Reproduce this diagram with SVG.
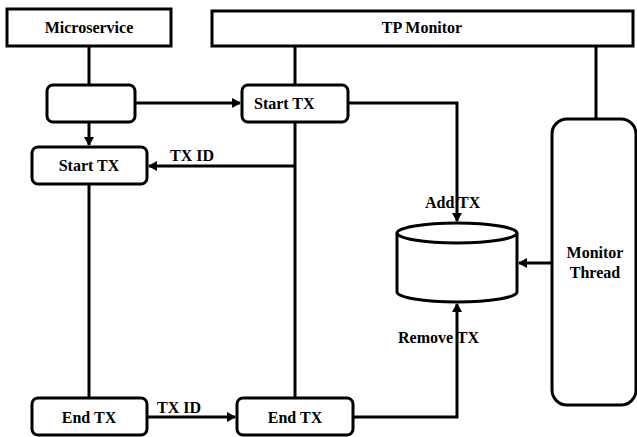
<svg xmlns="http://www.w3.org/2000/svg" width="637" height="437" viewBox="0 0 637 437">
  <style>
    .box { fill: #ffffff; stroke: #000000; stroke-width: 3; }
    .line { fill: none; stroke: #000000; stroke-width: 3; }
    text { font-family: 'Liberation Serif', 'Times New Roman', Times, serif; font-weight: bold; font-size: 16px; fill: #000000; }
    .mid { text-anchor: middle; }
  </style>
  <defs>
    <marker id="arrow" markerWidth="10" markerHeight="10" refX="8" refY="5" orient="auto" markerUnits="userSpaceOnUse">
      <path d="M0,0 L9,5 L0,10 Z" fill="#000000"/>
    </marker>
  </defs>
  <rect width="637" height="437" fill="#ffffff"/>

  <!-- connectors -->
  <g id="connectors">
    <!-- microservice lifeline -->
    <path class="line" d="M89,46 L89,145" marker-end="url(#arrow)"/>
    <path class="line" d="M89,184 L89,398"/>
    <!-- TP monitor lifeline -->
    <path class="line" d="M295,46 L295,398"/>
    <path class="line" d="M596,46 L596,119"/>
    <!-- request to start -->
    <path class="line" d="M135,103 L240,103" marker-end="url(#arrow)"/>
    <!-- TX ID returned -->
    <path class="line" d="M295,166 L149,166" marker-end="url(#arrow)"/>
    <!-- add TX to store -->
    <path class="line" d="M348,103 L457,103 L457,221" marker-end="url(#arrow)"/>
    <!-- monitor thread scan -->
    <path class="line" d="M552,263 L519,263" marker-end="url(#arrow)"/>
    <!-- end TX -->
    <path class="line" d="M147,417 L235,417" marker-end="url(#arrow)"/>
    <!-- remove TX from store -->
    <path class="line" d="M353,417 L457,417 L457,304" marker-end="url(#arrow)"/>
  </g>

  <g id="microservice">
    <rect class="box" x="7" y="9" width="164" height="37"/>
    <text class="mid" x="89" y="33">Microservice</text>
  </g>

  <g id="tp-monitor">
    <rect class="box" x="212" y="11" width="421" height="35"/>
    <text class="mid" x="422" y="33">TP Monitor</text>
  </g>

  <g id="caller">
    <rect class="box" x="47" y="85" width="88" height="37" rx="6"/>
  </g>

  <g id="start-tx-server">
    <rect class="box" x="242" y="85" width="106" height="37" rx="6"/>
    <text x="254" y="109">Start TX</text>
  </g>

  <g id="start-tx-client">
    <rect class="box" x="32" y="147" width="115" height="37" rx="6"/>
    <text class="mid" x="89" y="171">Start TX</text>
  </g>

  <g id="tx-store">
    <path class="box" d="M397,233 L397,292 A60,10 0 0 0 517,292 L517,233 A60,10 0 0 0 397,233 Z"/>
    <path class="line" d="M397,233 A60,10 0 0 0 517,233"/>
  </g>

  <g id="monitor-thread">
    <rect class="box" x="552" y="119" width="84" height="286" rx="15"/>
    <text class="mid" x="595" y="258">Monitor</text>
    <text class="mid" x="595" y="278">Thread</text>
  </g>

  <g id="end-tx-client">
    <rect class="box" x="32" y="398" width="115" height="37" rx="6"/>
    <text class="mid" x="89" y="423">End TX</text>
  </g>

  <g id="end-tx-server">
    <rect class="box" x="237" y="398" width="116" height="37" rx="6"/>
    <text class="mid" x="295" y="423">End TX</text>
  </g>

  <!-- connector labels -->
  <g id="labels">
    <text x="170" y="161">TX ID</text>
    <text x="157" y="413">TX ID</text>
    <text x="425" y="208">Add TX</text>
    <text x="398" y="343">Remove TX</text>
  </g>
</svg>
